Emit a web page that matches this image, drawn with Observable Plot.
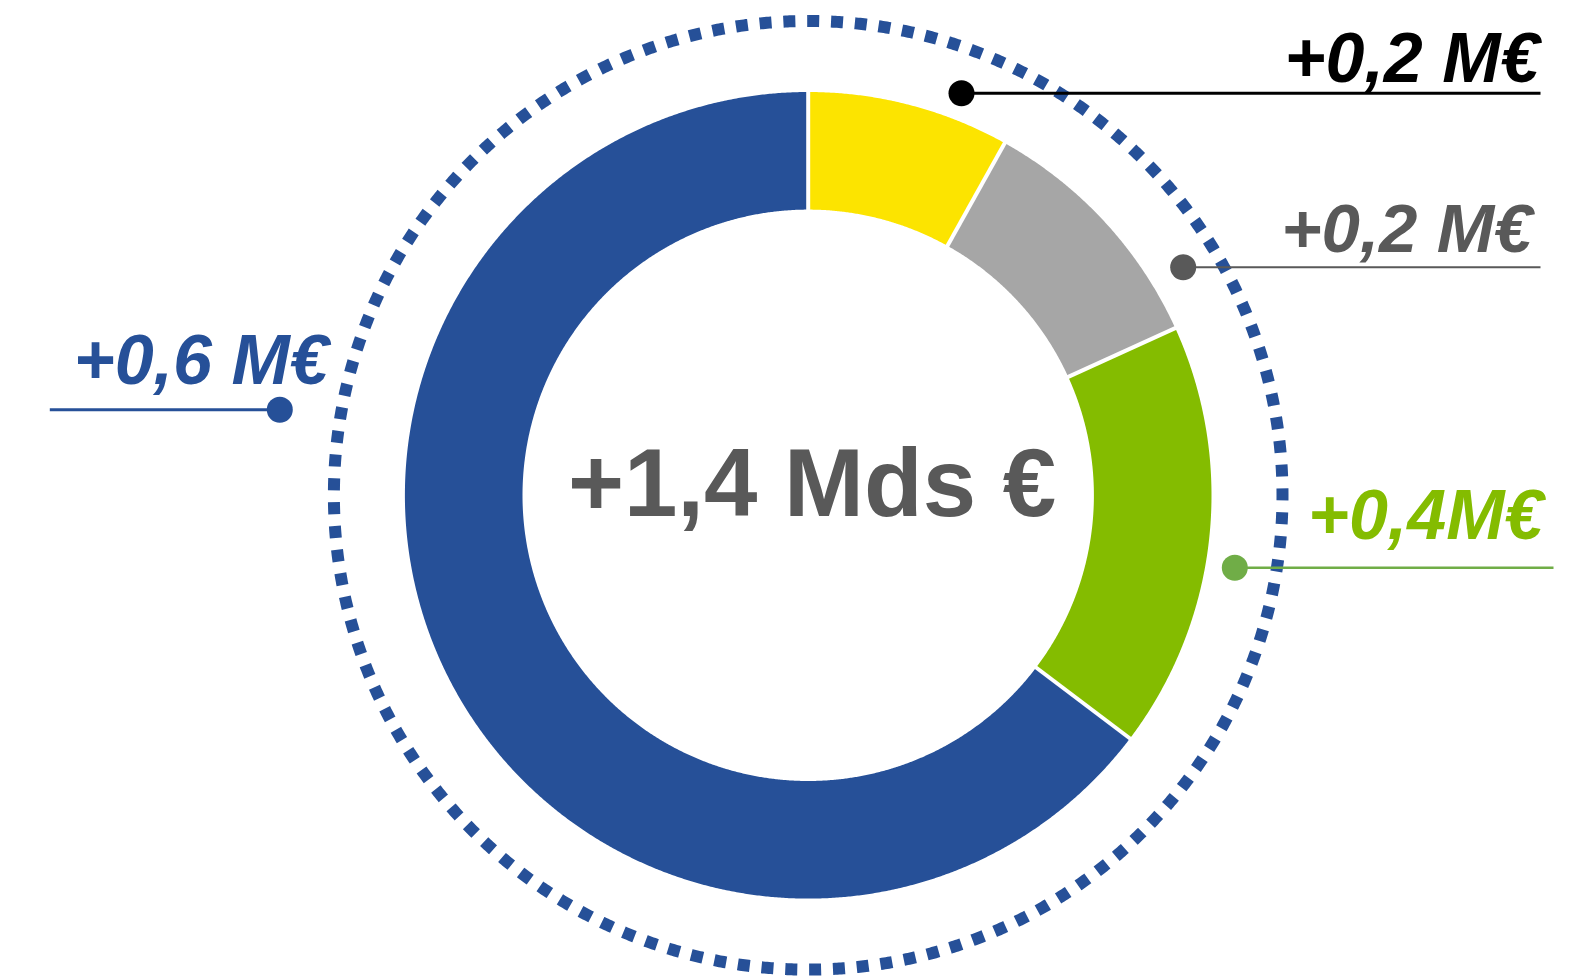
<!DOCTYPE html>
<html><head><meta charset="utf-8">
<script src="https://cdn.jsdelivr.net/npm/d3@7"></script>
<script src="https://cdn.jsdelivr.net/npm/@observablehq/plot@0.6"></script>
<style>html,body{margin:0;padding:0;background:#fff;} #chart svg{display:block}</style>
</head><body><div id="chart"></div>
<script>
// ---- data ----
const categories = ["Segment jaune", "Segment gris", "Segment vert", "Segment bleu"];
const shares = [8.1, 10.1, 17.1, 64.7];            // share of the ring (%)
const sliceColors = ["#fce400", "#a6a6a6", "#84bc00", "#265098"];
const labels = ["+0,2 M€", "+0,2 M€", "+0,4M€", "+0,6 M€"];
const labelColors = ["#000000", "#595959", "#84bc00", "#265098"];
const dotColors = ["#000000", "#595959", "#70ad47", "#265098"];
const totalLabel = "+1,4 Mds €";

// ---- layout ----
const W = 1588, H = 976;
const cx = 807.7, cy = 494.8;
const R = 403.3, r0 = 285.7, Rd = 474.3;
const annotLayout = [
  {dot: [961, 92.7], line: [961, 1540], text: [1539, 81.7], anchor: "end", lw: 3, fs: 70},
  {dot: [1182.7, 266.7], line: [1182.7, 1540], text: [1532, 251.7], anchor: "end", lw: 2, fs: 69},
  {dot: [1234.3, 567.3], line: [1234.3, 1553], text: [1543, 538.3], anchor: "end", lw: 2.5, fs: 70},
  {dot: [279.3, 409.3], line: [49.3, 279.3], text: [73.3, 383.3], anchor: "start", lw: 3, fs: 70}
];

const total = d3.sum(shares);
const polar = (r, a) => ({x: r * Math.sin(a), y: -r * Math.cos(a)});

// slices
const slicePts = [];
const boundaries = [];
let cum = 0;
categories.forEach((cat, i) => {
  const a0 = cum / total * 2 * Math.PI;
  cum += shares[i];
  const a1 = cum / total * 2 * Math.PI;
  boundaries.push(a0);
  const n = Math.ceil((a1 - a0) / (Math.PI / 720)) + 1;
  for (let k = 0; k <= n; k++) {
    const a = a0 + (a1 - a0) * k / n;
    slicePts.push({cat, ...polar(R, a)});
  }
  for (let k = n; k >= 0; k--) {
    const a = a0 + (a1 - a0) * k / n;
    slicePts.push({cat, ...polar(r0, a)});
  }
});
const seps = boundaries.map(a => {
  const p = polar(r0 - 3, a), q = polar(R + 3, a);
  return {x1: p.x, y1: p.y, x2: q.x, y2: q.y};
});

// dotted circle
const ringPts = d3.range(0, 1441).map(k => polar(Rd, k / 1440 * 2 * Math.PI));
const circ = 2 * Math.PI * Rd;
const period = circ / 125;
const dash = 12;

const annots = labels.map((t, i) => ({
  label: t, color: labelColors[i], dotColor: dotColors[i], ...annotLayout[i]
}));
const X = v => v - cx, Y = v => v - cy;

const marks = [
  Plot.line(slicePts, {x: "x", y: "y", z: "cat", fill: "cat", stroke: null, curve: "linear-closed"}),
  Plot.link(seps, {x1: "x1", y1: "y1", x2: "x2", y2: "y2", stroke: "white", strokeWidth: 4}),
  Plot.line(ringPts, {x: "x", y: "y", stroke: "#265098", strokeWidth: 12, strokeDasharray: `${dash} ${period - dash}`, strokeDashoffset: 1, strokeLinecap: "butt"}),
  Plot.text([totalLabel], {x: () => X(811.5), y: () => Y(515), text: d => d, fill: "#595959", fontSize: 96, fontWeight: "bold", textAnchor: "middle", lineAnchor: "bottom", fontFamily: "Liberation Sans, Arial, sans-serif"})
];
annots.forEach(a => {
  marks.push(Plot.link([a], {x1: d => X(d.line[0]), x2: d => X(d.line[1]), y1: d => Y(d.dot[1]), y2: d => Y(d.dot[1]), stroke: a.dotColor, strokeWidth: a.lw}));
  marks.push(Plot.dot([a], {x: d => X(d.dot[0]), y: d => Y(d.dot[1]), r: 13, fill: a.dotColor, stroke: null}));
  marks.push(Plot.text([a], {x: d => X(d.text[0]), y: d => Y(d.text[1]), text: "label", fill: a.color, fontSize: a.fs, fontWeight: "bold", fontStyle: "italic", textAnchor: a.anchor, lineAnchor: "bottom", fontFamily: "Liberation Sans, Arial, sans-serif"}));
});

const chart = Plot.plot({
  width: W, height: H,
  margin: 0,
  x: {domain: [-cx, W - cx], range: [0, W], axis: null},
  y: {domain: [-cy, H - cy], range: [0, H], axis: null},
  color: {domain: categories, range: sliceColors},
  style: {background: "#fff", fontFamily: "Liberation Sans, Arial, sans-serif"},
  marks
});
document.getElementById("chart").appendChild(chart);
</script>
</body></html>
